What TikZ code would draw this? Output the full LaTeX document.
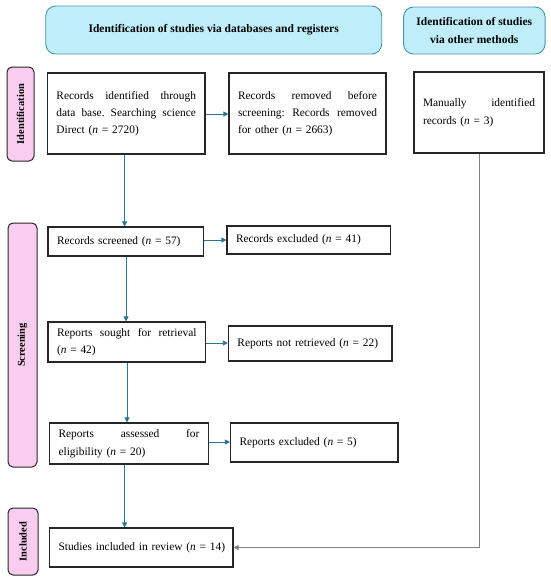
\documentclass[tikz,border=0pt]{standalone}
\usepackage{fontspec}
\setmainfont{Liberation Serif}
\usetikzlibrary{arrows.meta}
\definecolor{hdrfill}{HTML}{BFEEFA}
\definecolor{hdrline}{HTML}{4A95AE}
\definecolor{pinkfill}{HTML}{F9CDEF}
\definecolor{boxline}{HTML}{262626}
\definecolor{flowblue}{HTML}{2A7497}
\definecolor{flowgray}{HTML}{808080}
\newcommand{\nn}{\textit{n}}
\begin{document}
\begin{tikzpicture}[x=1pt,y=-1pt,
  box/.style={draw=boxline, line width=1.1pt, rectangle, inner xsep=9pt, inner ysep=0pt,
    align=left, font=\fontsize{11.4}{17.5}\selectfont},
  hdr/.style={draw=hdrline, fill=hdrfill, line width=0.9pt, rounded corners=10pt,
    align=center, font=\fontsize{11.5}{17.3}\selectfont\bfseries},
  side/.style={draw=boxline, fill=pinkfill, line width=1pt, rounded corners=5pt,
    rotate=90, font=\fontsize{10.4}{12}\selectfont\bfseries},
  flow/.style={draw=flowblue, line width=0.8pt, -{Triangle[length=5pt,width=5pt]}},
  flowg/.style={draw=flowgray, line width=0.9pt, -{Triangle[length=5pt,width=5pt]}}]
\useasboundingbox (0,0) rectangle (550,582);

% headers
\node[hdr, minimum width=336pt, minimum height=48pt] (h1) at (213.7,30) {Identification of studies via databases and registers};
\node[hdr, minimum width=141.5pt, minimum height=47pt] (h2) at (474.3,30.5) {Identification of studies\\via other methods};

% side labels
\node[side, minimum width=94pt, minimum height=27pt] (sid) at (20.5,114) {Identification};
\node[side, minimum width=244pt, minimum height=29pt] (sscr) at (22.5,345) {Screening};
\node[side, minimum width=67pt, minimum height=30pt] (sinc) at (23,541.5) {Included};

% identification row
\node[box, text width=139.6pt, minimum height=81pt, font=\fontsize{11.4}{16.7}\selectfont] (a) at (126.2,113.5)
  {\makebox[139.6pt]{Records\hfill identified\hfill through}\\
   \makebox[139.6pt]{data\hfill base.\hfill Searching\hfill science}\\
   Direct (\nn{} = 2720)};
\node[box, text width=139pt, minimum height=81pt, font=\fontsize{11.4}{16.7}\selectfont] (b) at (307.5,113.5)
  {\makebox[139pt]{Records\hfill removed\hfill before}\\
   \makebox[139pt]{screening:\hfill Records\hfill removed}\\
   for other (\nn{} = 2663)};
\node[box, text width=112pt, minimum height=81pt] (m) at (479,112.5)
  {\makebox[112pt]{Manually\hfill identified}\\records (\nn{} = 3)};

% screening rows
\node[box, text width=137.5pt, minimum height=29pt] (c) at (125.75,241.5)
  {\mbox{Records screened (\nn{} = 57)}};
\node[box, text width=145.5pt, minimum height=28pt] (d) at (308.75,240)
  {\mbox{Records excluded (\nn{} = 41)}};
\node[box, text width=139.6pt, minimum height=40pt] (e) at (126.8,342)
  {\makebox[139.6pt]{Reports\hfill sought\hfill for\hfill retrieval}\\(\nn{} = 42)};
\node[box, text width=145.6pt, minimum height=35pt] (f) at (310.2,343.5)
  {\mbox{Reports not retrieved (\nn{} = 22)}};
\node[box, text width=140.9pt, minimum height=41pt] (g) at (129,443.5)
  {\makebox[140.9pt]{Reports\hfill assessed\hfill for}\\eligibility (\nn{} = 20)};
\node[box, text width=149.5pt, minimum height=39pt] (h) at (314.25,442.5)
  {\mbox{Reports excluded (\nn{} = 5)}};

% included
\node[box, text width=165.5pt, minimum height=39pt] (i) at (141.25,547.5)
  {\mbox{Studies included in review (\nn{} = 14)}};

% connectors
\draw[flow] (a.east |- 0,114) -- (b.west |- 0,114);
\draw[flow] (c.east |- 0,240) -- (d.west |- 0,240);
\draw[flow] (e.east |- 0,343) -- (f.west |- 0,343);
\draw[flow] (g.east |- 0,442) -- (h.west |- 0,442);
\draw[flow] (a.south -| 124.6,0) -- (c.north -| 124.6,0);
\draw[flow] (c.south -| 126,0) -- (e.north -| 126,0);
\draw[flow] (e.south -| 127,0) -- (g.north -| 127,0);
\draw[flow] (g.south -| 124.6,0) -- (i.north -| 124.6,0);
\draw[flowg] (m.south) |- (i.east);
\end{tikzpicture}
\end{document}
